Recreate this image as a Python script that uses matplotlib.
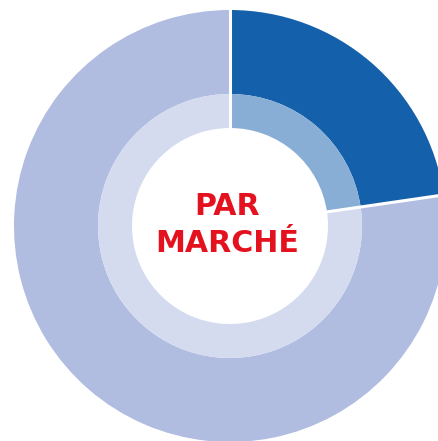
import numpy as np
import matplotlib
matplotlib.use("Agg")
import matplotlib.pyplot as plt

# Data
categories = ["Segment A", "Autres"]
outer_values = [22.7, 77.3]
inner_values = [22.7, 77.3]
outer_colors = ["#1460AA", "#B0BCE0"]
inner_colors = ["#88AED5", "#D5DBEF"]
center_lines = ["PAR", "MARCHÉ"]

W, H = 439, 441
fig = plt.figure(figsize=(W / 100, H / 100), dpi=100)
ax = fig.add_axes([0, 0, 1, 1])

cx, cy = 230, 215
r_out, r_mid, r_in = 216, 132, 98

ax.pie(outer_values, colors=outer_colors, radius=r_out, center=(cx, cy),
       startangle=90, counterclock=False,
       wedgeprops=dict(width=r_out - r_mid, linewidth=0, antialiased=True))
ax.pie(inner_values, colors=inner_colors, radius=r_mid, center=(cx, cy),
       startangle=90, counterclock=False,
       wedgeprops=dict(width=r_mid - r_in, linewidth=0, antialiased=True))

# white separators at slice boundaries
cum = np.cumsum([0] + outer_values[:-1])
total = sum(outer_values)
for c in cum:
    ang = np.deg2rad(90 - 360 * c / total)
    xs = [cx + (r_in - 2) * np.cos(ang), cx + (r_out + 3) * np.cos(ang)]
    ys = [cy + (r_in - 2) * np.sin(ang), cy + (r_out + 3) * np.sin(ang)]
    ax.plot(xs, ys, color="white", linewidth=2.2, solid_capstyle="butt")

baselines = [H - 215, H - 252]
for txt, yb in zip(center_lines, baselines):
    ax.text(cx - 2.5, yb, txt, ha="center", va="baseline", color="#E3121E",
            fontsize=21.6, fontweight="bold", family=["DejaVu Sans"])

ax.set_xlim(0, W)
ax.set_ylim(0, H)
ax.set_aspect("equal")
ax.axis("off")
fig.savefig("out.png", dpi=100, facecolor="white")
